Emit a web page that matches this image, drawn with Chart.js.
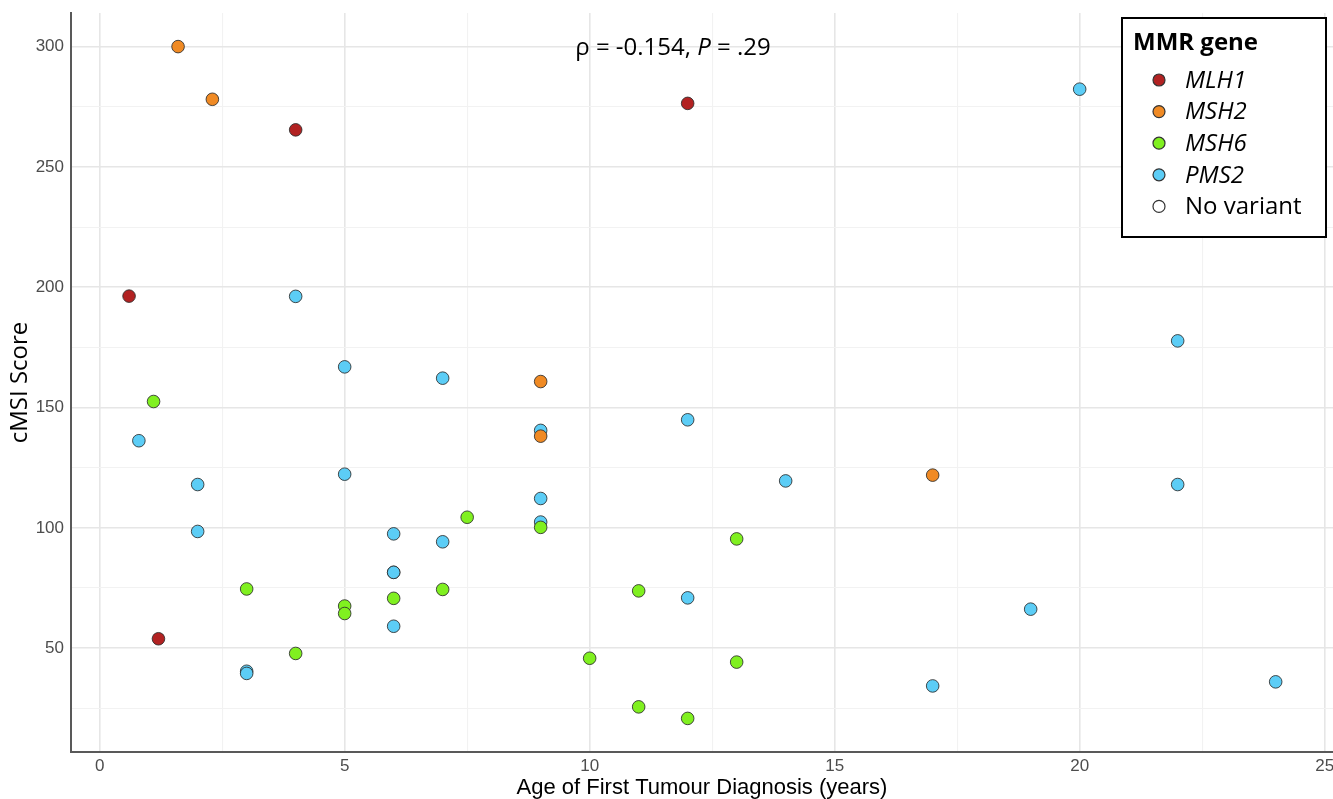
<!DOCTYPE html>
<html>
<head>
<meta charset="utf-8">
<script src="https://cdn.jsdelivr.net/npm/chart.js@4.4.0/dist/chart.umd.min.js"></script>
<style>
  html, body { margin: 0; padding: 0; background: #fff; overflow: hidden; }
  #wrap { position: relative; width: 1333px; height: 799px; }
  #chart { display: block; }
</style>
</head>
<body>
<div id="wrap"><canvas id="chart"></canvas></div>
<script>
// ── Data ──────────────────────────────────────────────────────────
const MLH1_AGE   = [0.6, 1.2, 4, 12];
const MLH1_SCORE = [196.3, 53.9, 265.4, 276.4];

const MSH2_AGE   = [1.6, 2.3, 9, 9, 17];
const MSH2_SCORE = [300, 278.1, 160.8, 138.1, 121.9];

const MSH6_AGE   = [1.1, 3, 4, 5, 5, 6, 7, 7.5, 9, 10, 11, 11, 12, 13, 13];
const MSH6_SCORE = [152.5, 74.6, 47.8, 67.5, 64.4, 70.7, 74.4, 104.4, 100.2, 45.8, 73.8, 25.6, 20.8, 95.4, 44.2];

const PMS2_AGE   = [0.8, 2, 2, 3, 3, 4, 5, 5, 6, 6, 6, 6, 7, 7, 9, 9, 9, 12, 12, 14, 17, 19, 20, 22, 22, 24];
const PMS2_SCORE = [136.2, 118.0, 98.5, 40.4, 39.5, 196.2, 166.9, 122.3, 97.5, 81.5, 81.5, 59.1, 94.2, 162.2,
                    140.5, 112.2, 102.4, 144.9, 70.9, 119.5, 34.3, 66.2, 282.3, 177.7, 118.0, 36.0];

const X_TICKS = [0, 2.5, 5, 7.5, 10, 12.5, 15, 17.5, 20, 22.5, 25];
const Y_TICKS = [25, 50, 75, 100, 125, 150, 175, 200, 225, 250, 275, 300];

const STAT_X = 11.7, STAT_Y = 299.3;

// ── Style ─────────────────────────────────────────────────────────
const COLORS = {
  MLH1: '#B22222',
  MSH2: '#F08A24',
  MSH6: '#80F020',
  PMS2: '#5CCDF6',
  none: '#FFFFFF',
};
const GRID_MAJOR = '#E6E6E6';
const GRID_MINOR = '#F2F2F2';
const AXIS_COLOR = '#595959';
const TICK_FONT  = { family: "'Liberation Sans', Arial, sans-serif", size: 17 };

function toPoints(xs, ys) {
  return xs.map((x, i) => ({ x, y: ys[i] }));
}

function dataset(label, xs, ys, color) {
  return {
    label,
    data: toPoints(xs, ys),
    backgroundColor: color,
    borderColor: 'rgba(45,45,45,0.85)',
    borderWidth: 1,
    pointRadius: 6.3,
    pointHoverRadius: 6.3,
  };
}

// ── Annotation + legend drawn on top ─────────────────────────────
const overlay = {
  id: 'overlay',
  afterDraw(chart) {
    const ctx = chart.ctx;
    const xs = chart.scales.x, ys = chart.scales.y;

    // ρ / P text
    ctx.save();
    ctx.fillStyle = '#000';
    ctx.textBaseline = 'middle';
    const parts = [
      { t: 'ρ = -0.154, ', f: "24px 'Open Sans'" },
      { t: 'P', f: "italic 24px 'Open Sans'" },
      { t: ' = .29', f: "24px 'Open Sans'" },
    ];
    let total = 0;
    parts.forEach(p => { ctx.font = p.f; p.w = ctx.measureText(p.t).width; total += p.w; });
    let cx = xs.getPixelForValue(STAT_X) - total / 2;
    const cy = ys.getPixelForValue(STAT_Y);
    parts.forEach(p => { ctx.font = p.f; ctx.fillText(p.t, cx, cy); cx += p.w; });

    // legend box
    const L = 1122, T = 18, R = 1326, B = 237;
    ctx.fillStyle = '#fff';
    ctx.fillRect(L, T, R - L, B - T);
    ctx.lineWidth = 2;
    ctx.strokeStyle = '#000';
    ctx.strokeRect(L, T, R - L, B - T);

    ctx.fillStyle = '#000';
    ctx.font = "bold 24px 'Open Sans'";
    ctx.fillText('MMR gene', 1133, 43);

    chart.data.datasets.forEach((ds, i) => {
      const y = 80 + i * 31.6;
      ctx.beginPath();
      ctx.arc(1159, y, 6, 0, Math.PI * 2);
      ctx.fillStyle = ds.backgroundColor;
      ctx.fill();
      ctx.lineWidth = 1.2;
      ctx.strokeStyle = '#333';
      ctx.stroke();
      ctx.fillStyle = '#000';
      ctx.font = (ds.label === 'No variant' ? '' : 'italic ') + "24px 'Open Sans'";
      ctx.fillText(ds.label, 1185, y + 1);
    });
    ctx.restore();
  },
};

// ── Chart ─────────────────────────────────────────────────────────
new Chart(document.getElementById('chart'), {
  type: 'scatter',
  data: {
    datasets: [
      dataset('MLH1', MLH1_AGE, MLH1_SCORE, COLORS.MLH1),
      dataset('MSH2', MSH2_AGE, MSH2_SCORE, COLORS.MSH2),
      dataset('MSH6', MSH6_AGE, MSH6_SCORE, COLORS.MSH6),
      dataset('PMS2', PMS2_AGE, PMS2_SCORE, COLORS.PMS2),
      dataset('No variant', [], [], COLORS.none),
    ],
  },
  options: {
    responsive: true,
    maintainAspectRatio: false,
    animation: false,
    // no auto padding for point radius: panel runs to the right edge
    layout: { autoPadding: false, padding: { top: 13, right: 0, bottom: 0, left: 0 } },
    plugins: {
      legend: { display: false },
      tooltip: { enabled: false },
    },
    scales: {
      x: {
        type: 'linear',
        min: -0.585,
        max: 25.17,
        afterBuildTicks: s => { s.ticks = X_TICKS.map(v => ({ value: v })); },
        afterFit: s => { s.height = 47; s.paddingLeft = 0; s.paddingRight = 0; },
        border: { display: true, color: AXIS_COLOR, width: 2 },
        grid: {
          drawTicks: false,
          color: c => (c.tick && c.tick.value % 5 === 0 ? GRID_MAJOR : GRID_MINOR),
          lineWidth: c => (c.tick && c.tick.value % 5 === 0 ? 1.6 : 1.1),
        },
        ticks: {
          color: '#4D4D4D',
          font: TICK_FONT,
          padding: 4,
          maxRotation: 0,
          autoSkip: false,
          callback: v => (v % 5 === 0 ? String(v) : ''),
        },
        title: {
          display: true,
          text: 'Age of First Tumour Diagnosis (years)',
          color: '#000',
          font: { family: "'Liberation Sans', Arial, sans-serif", size: 22, lineHeight: 1 },
          padding: { top: 0, bottom: 0 },
        },
      },
      y: {
        type: 'linear',
        min: 6.84,
        max: 313.96,
        afterBuildTicks: s => { s.ticks = Y_TICKS.map(v => ({ value: v })); },
        afterFit: s => { s.width = 71; s.paddingTop = 0; s.paddingBottom = 0; },
        border: { display: true, color: AXIS_COLOR, width: 2 },
        grid: {
          drawTicks: false,
          color: c => (c.tick && c.tick.value % 50 === 0 ? GRID_MAJOR : GRID_MINOR),
          lineWidth: c => (c.tick && c.tick.value % 50 === 0 ? 1.6 : 1.1),
        },
        ticks: {
          color: '#4D4D4D',
          font: TICK_FONT,
          padding: 7,
          autoSkip: false,
          callback: v => (v % 50 === 0 ? String(v) : ''),
        },
        title: {
          display: true,
          text: 'cMSI Score',
          color: '#000',
          font: { family: "'Open Sans', sans-serif", size: 24, lineHeight: 1 },
          padding: { top: 8, bottom: 0 },
        },
      },
    },
  },
  plugins: [overlay],
});
</script>
</body>
</html>
